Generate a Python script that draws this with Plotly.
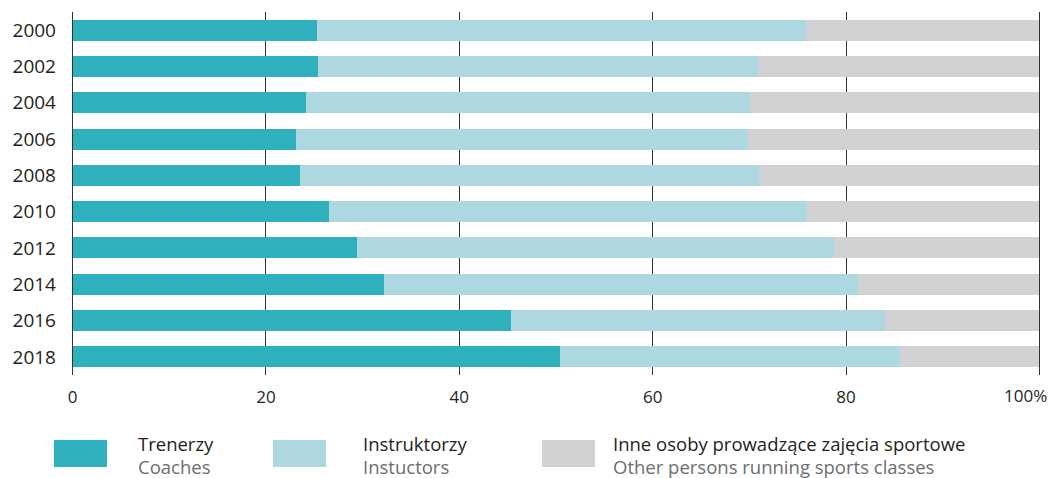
import plotly.graph_objects as go

years = ["2000", "2002", "2004", "2006", "2008", "2010", "2012", "2014", "2016", "2018"]
coaches = [25.3, 25.4, 24.1, 23.1, 23.5, 26.5, 29.4, 32.2, 45.3, 50.4]
instructors = [50.6, 45.5, 46.0, 46.8, 47.5, 49.5, 49.3, 49.0, 38.7, 35.2]
others = [24.1, 29.1, 29.9, 30.1, 29.0, 24.0, 21.3, 18.8, 16.0, 14.4]

names_pl = ["Trenerzy", "Instruktorzy", "Inne osoby prowadzące zajęcia sportowe"]
names_en = ["Coaches", "Instuctors", "Other persons running sports classes"]
colors = ["#2EB1BD", "#ADD8DF", "#D1D2D4"]

x_ticks = [0, 20, 40, 60, 80, 100]
x_ticktext = ["0", "20", "40", "60", "80", ""]
last_tick_label = "100%"

FONT = "Open Sans"
DARK = "#231F20"
GRAY = "#6D6E71"

fig = go.Figure()
for vals, npl, col in zip([coaches, instructors, others], names_pl, colors):
    fig.add_trace(go.Bar(
        y=years, x=vals, orientation="h", name=npl,
        marker=dict(color=col, line=dict(width=0)),
        hoverinfo="skip",
    ))

W, H = 1052, 478
ml, mr, mt, mb = 71, 11, 12, 103
pw = W - ml - mr
ph = H - mt - mb

def px_x(p):
    return (p - ml) / pw

def px_y(p):
    return (H - mb - p) / ph

# legend built from shapes + annotations
sq_x = [54, 273, 542]
txt_x = [137, 362, 612]
shapes = []
annotations = []
for sx, tx, col, npl, nen in zip(sq_x, txt_x, colors, names_pl, names_en):
    shapes.append(dict(type="rect", xref="paper", yref="paper",
                       x0=px_x(sx), x1=px_x(sx + 53), y0=px_y(440), y1=px_y(467),
                       fillcolor=col, line=dict(width=0), layer="above"))
    annotations.append(dict(
        xref="paper", yref="paper", x=px_x(tx), y=px_y(443),
        xanchor="left", yanchor="middle", align="left", showarrow=False,
        text=npl, font=dict(family=FONT, size=18.5, color=DARK), borderpad=0,
    ))
    annotations.append(dict(
        xref="paper", yref="paper", x=px_x(tx), y=px_y(467),
        xanchor="left", yanchor="middle", align="left", showarrow=False,
        text=nen, font=dict(family=FONT, size=18.5, color=GRAY), borderpad=0,
    ))

# last x tick label, pulled inside the canvas as in the reference
annotations.append(dict(
    xref="x", yref="paper", x=x_ticks[-1], y=px_y(395),
    xanchor="right", yanchor="middle", xshift=9, showarrow=False,
    text=last_tick_label, font=dict(family=FONT, size=17, color=DARK), borderpad=0,
))

fig.update_layout(
    width=W, height=H,
    margin=dict(l=ml, r=mr, t=mt, b=mb),
    barmode="stack", bargap=0.42,
    plot_bgcolor="white", paper_bgcolor="white",
    showlegend=False,
    font=dict(family=FONT, color=DARK),
    shapes=shapes, annotations=annotations,
    xaxis=dict(
        range=[-0.16, 100.16], tickvals=x_ticks, ticktext=x_ticktext,
        showgrid=True, gridcolor="#333333", gridwidth=1,
        zeroline=False, showline=False, automargin=False,
        tickfont=dict(family=FONT, size=17, color=DARK),
        ticklabelstandoff=10,
    ),
    yaxis=dict(
        autorange="reversed", type="category",
        showgrid=False, zeroline=False, showline=False, automargin=False,
        tickfont=dict(family=FONT, size=19, color=DARK),
        ticklabelstandoff=14,
    ),
)

fig.write_html("out.html", config={"displayModeBar": False},
               post_script="document.body.style.margin='0px';document.body.style.overflow='hidden';")
